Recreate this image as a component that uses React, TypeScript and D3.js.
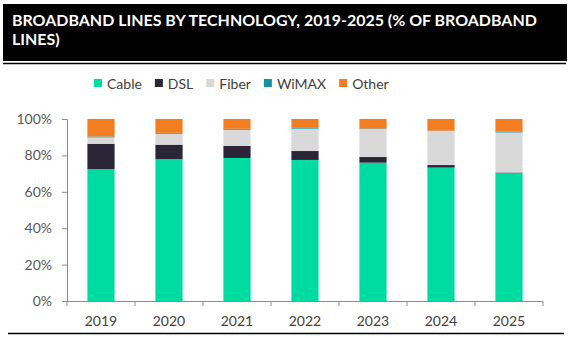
import React, { useEffect, useRef } from "react";
import * as d3 from "d3";

const years = ["2019", "2020", "2021", "2022", "2023", "2024", "2025"];
const seriesNames = ["Cable", "DSL", "Fiber", "WiMAX", "Other"];
const cable = [72.5, 78.0, 78.6, 77.5, 76.0, 73.3, 70.2];
const dsl = [13.9, 7.9, 6.6, 4.9, 3.1, 1.4, 0.4];
const fiber = [3.5, 6.0, 8.9, 12.3, 15.4, 18.7, 22.0];
const wimax = [0.5, 0.5, 0.5, 0.4, 0.3, 0.2, 0.5];
const other = [9.6, 7.6, 5.4, 4.9, 5.2, 6.4, 6.9];
const colors = ["#00DBA2", "#2A2637", "#D9D9D9", "#1A8F9C", "#F37D21"];
const yTicks = [0, 0.2, 0.4, 0.6, 0.8, 1.0];
const title1 = "BROADBAND LINES BY TECHNOLOGY, 2019-2025 (% OF BROADBAND";
const title2 = "LINES)";

const FONT = "Lato, 'Open Sans', sans-serif";

export default function App() {
  const ref = useRef<SVGSVGElement>(null);
  useEffect(() => {
    const svg = d3.select(ref.current);
    svg.selectAll("*").remove();

    // Title
    svg.append("rect").attr("x", 3).attr("y", 4).attr("width", 564).attr("height", 57).attr("fill", "#000");
    const t1 = svg.append("text").attr("x", 12).attr("y", 25.5).attr("fill", "#fff")
      .attr("font-family", FONT).attr("font-weight", 700).attr("font-size", 18).text(title1);
    const w1 = (t1.node() as SVGTextElement).getComputedTextLength();
    const fs = Math.min(18, 18 * 525 / w1);
    t1.attr("font-size", fs);
    svg.append("text").attr("x", 12).attr("y", 44.5).attr("fill", "#fff")
      .attr("font-family", FONT).attr("font-weight", 700).attr("font-size", fs).text(title2);
    svg.append("line").attr("x1", 3).attr("x2", 566).attr("y1", 63.5).attr("y2", 63.5)
      .attr("stroke", "#000").attr("stroke-width", 1.5);

    // Legend
    let lx = 94;
    seriesNames.forEach((name, i) => {
      svg.append("rect").attr("x", lx).attr("y", 79).attr("width", 8).attr("height", 8).attr("fill", colors[i]);
      const t = svg.append("text").attr("x", lx + 13).attr("y", 88.5).attr("fill", "#404040")
        .attr("font-family", FONT).attr("font-size", 14).text(name);
      const w = (t.node() as SVGTextElement).getComputedTextLength();
      lx = lx + 13 + w + 13;
    });

    // Scales
    const x = d3.scaleBand<string>().domain(years).range([67, 543]).paddingInner(0.6).paddingOuter(0.3);
    const y = d3.scaleLinear().domain([0, 1]).range([301, 119]);

    // Stacked data
    const rows = years.map((yr, i) => ({
      year: yr, Cable: cable[i], DSL: dsl[i], Fiber: fiber[i], WiMAX: wimax[i], Other: other[i],
    }));
    const stack = d3.stack<any>().keys(seriesNames).offset(d3.stackOffsetExpand);
    const layers = stack(rows);
    layers.forEach((layer, li) => {
      svg.append("g").selectAll("rect").data(layer).join("rect")
        .attr("x", (d: any) => x(d.data.year)!)
        .attr("width", x.bandwidth())
        .attr("y", (d: any) => y(d[1]))
        .attr("height", (d: any) => Math.max(0, y(d[0]) - y(d[1])))
        .attr("fill", colors[li]);
    });

    // Y axis
    const yAxis = d3.axisLeft(y).tickValues(yTicks).tickFormat(d3.format(".0%")).tickSize(5).tickPadding(10);
    const gy = svg.append("g").attr("transform", "translate(67,0)").call(yAxis);
    gy.select(".domain").attr("stroke", "#8C8C8C");
    gy.selectAll(".tick line").attr("stroke", "#8C8C8C");
    gy.selectAll(".tick text").attr("font-family", FONT).attr("font-size", 14).attr("fill", "#595959");

    // X axis
    const step = x.step();
    const x0 = 67;
    const gx = svg.append("g");
    gx.append("line").attr("x1", x0).attr("x2", 543).attr("y1", 301.5).attr("y2", 301.5).attr("stroke", "#8C8C8C");
    d3.range(years.length + 1).forEach((k) => {
      const xx = x0 + k * step;
      gx.append("line").attr("x1", xx).attr("x2", xx).attr("y1", 301).attr("y2", 306).attr("stroke", "#8C8C8C");
    });
    gx.selectAll("text.yr").data(years).join("text").attr("class", "yr")
      .attr("x", (d) => x(d)! + x.bandwidth() / 2).attr("y", 326)
      .attr("text-anchor", "middle").attr("font-family", FONT).attr("font-size", 14).attr("fill", "#404040")
      .text((d) => d);

    // Bottom rule
    svg.append("line").attr("x1", 8).attr("x2", 564).attr("y1", 333.5).attr("y2", 333.5)
      .attr("stroke", "#000").attr("stroke-width", 1.5);
  }, []);

  return (
    <svg ref={ref} width={572} height={338} style={{ position: "absolute", left: 0, top: 0, background: "#fff" }} />
  );
}
